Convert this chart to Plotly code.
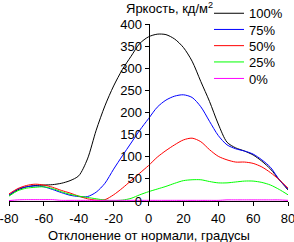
import plotly.graph_objects as go

angles = list(range(-80, 81, 5))

lum_100 = [13, 25, 32, 35, 36, 37, 40, 46, 57, 95, 160, 215, 260, 297, 327, 356, 371,
           377, 376, 366, 347, 316, 270, 225, 174, 133, 120, 113, 104, 90, 72, 48, 25]
lum_75 = [13, 27, 32, 34, 32, 26, 19, 13, 10, 10, 20, 40, 72, 102, 131, 160, 186,
          212, 228, 237, 240, 234, 213, 180, 148, 127, 118, 113, 106, 93, 76, 48, 27]
lum_50 = [16, 28, 35, 38, 36, 31, 24, 18, 11, 5, 2, 3, 14, 29, 46, 63, 80,
          99, 114, 127, 138, 142, 134, 116, 101, 93, 88, 88, 85, 77, 64, 48, 29]
lum_25 = [11, 23, 29, 31, 32, 28, 21, 15, 11, 8, 5, 2, 1, 2, 6, 14, 21,
          27, 33, 40, 46, 48, 48, 44, 41, 41, 43, 45, 45, 42, 36, 26, 14]
lum_0 = [1, 2.5, 3, 3, 3, 3, 1.5, 1.5, 1.5, 1.5, 1.5, 1.5, 1.5, 1.5, 1.5, 1.5, 1.5,
         1.5, 1.5, 1.5, 1.5, 1.5, 1.5, 1.5, 1.5, 2.5, 2.5, 2.5, 2.5, 2.5, 2.5, 2.5, 1.5]

series_names = ["100%", "75%", "50%", "25%", "0%"]
series_colors = ["#000000", "#0000ff", "#ff0000", "#00ff00", "#ff00ff"]
series_values = [lum_100, lum_75, lum_50, lum_25, lum_0]

x_ticks = [-80, -60, -40, -20, 0, 20, 40, 60, 80]
x_ticktext = ["-80", "-60", "-40", "-20", "0", "20", "40", "60", "80"]
y_ticks = [0, 50, 100, 150, 200, 250, 300, 350, 400]

x_title = "Отклонение от нормали, градусы"
y_title = "Яркость, кд/м<sup>2</sup>"

FONT = "Liberation Sans, Arial, sans-serif"
W, H = 294, 242
ML, MR, MT, MB = 9, 6, 24, 41
PW, PH = W - ML - MR, H - MT - MB


def px_to_paper_x(px):
    return (px - ML) / PW


def px_to_paper_y(py):
    return 1 + (MT - py) / PH


fig = go.Figure()
legend_ids = ["legend", "legend2", "legend3", "legend4", "legend5"]
for name, color, vals, lid in zip(series_names, series_colors, series_values, legend_ids):
    fig.add_trace(go.Scatter(x=angles, y=vals, mode="lines", name=name, legend=lid,
                             line=dict(color=color, width=1, shape="spline", smoothing=0.8)))

legend_rows = [13.3, 29.5, 45.7, 62.0, 78.5]
legend_layout = {}
for lid, row in zip(legend_ids, legend_rows):
    legend_layout[lid] = dict(x=px_to_paper_x(209), y=px_to_paper_y(row),
                              xanchor="left", yanchor="middle",
                              bgcolor="rgba(0,0,0,0)", font=dict(size=13),
                              itemwidth=30)

fig.update_layout(
    width=W, height=H,
    margin=dict(l=ML, r=MR, t=MT, b=MB, autoexpand=False),
    paper_bgcolor="white", plot_bgcolor="white",
    font=dict(family=FONT, size=13, color="black"),
    showlegend=True,
    xaxis=dict(range=[-80, 80], tickvals=x_ticks, ticktext=x_ticktext,
               showgrid=False, zeroline=False, showline=True, linecolor="black",
               linewidth=1, ticks="outside", ticklen=4, tickcolor="black",
               ticklabeloverflow="allow", ticklabelstandoff=1, automargin=False),
    yaxis=dict(range=[0, 400], tickvals=y_ticks, showgrid=False, zeroline=False,
               showline=True, linecolor="black", linewidth=1, ticks="outside",
               ticklen=4, tickcolor="black", anchor="free", position=0.5,
               ticklabeloverflow="allow", automargin=False),
    annotations=[
        dict(text=y_title, xref="paper", yref="paper",
             x=px_to_paper_x(124), y=px_to_paper_y(7.5), xanchor="left",
             yanchor="middle", showarrow=False, font=dict(size=13)),
        dict(text=x_title, xref="paper", yref="paper",
             x=px_to_paper_x(148.5), y=px_to_paper_y(235), xanchor="center",
             yanchor="middle", showarrow=False, font=dict(size=13)),
    ],
    **legend_layout,
)

fig.write_html("out.html")
